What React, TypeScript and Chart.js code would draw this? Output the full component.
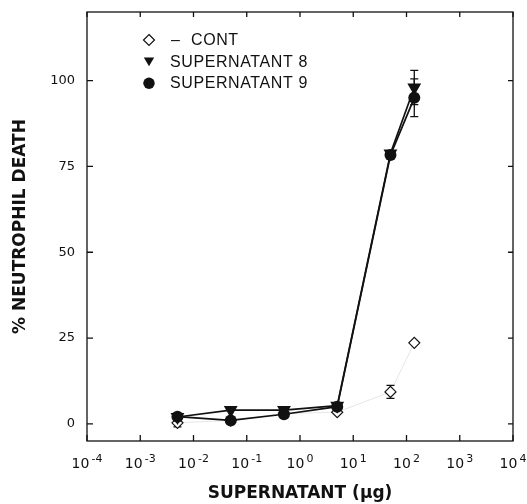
import React, { useEffect, useRef } from "react";
import { Chart, registerables } from "chart.js";

Chart.register(...registerables);

// ---- data ----
const doses = [0.005, 0.05, 0.5, 5, 50, 140];
const contValues = [0.3, 1, 3, 3.4, 9.3, 23.6];
const contErrors = [1.2, 0, 0, 0, 1.9, 0];
const sup8Values = [2, 4, 4, 5.3, 78.8, 98];
const sup8Errors = [0, 0, 0, 0, 0, 5];
const sup9Values = [2.1, 1, 2.8, 5, 78.3, 95];
const sup9Errors = [0, 0, 0, 0, 0, 5.5];
const xTickExponents = [-4, -3, -2, -1, 0, 1, 2, 3, 4];
const yTickValues = [0, 25, 50, 75, 100];
const seriesLabels = ["– CONT", "SUPERNATANT 8", "SUPERNATANT 9"];
const xTitle = "SUPERNATANT (µg)";
const yTitle = "% NEUTROPHIL DEATH";

const INK = "#111";

const errorsByDataset = [contErrors, sup8Errors, sup9Errors];

const errorBarPlugin = {
  id: "errorBars",
  beforeDatasetsDraw(chart: any) {
    const { ctx } = chart;
    const xs = chart.scales.x;
    const ys = chart.scales.y;
    ctx.save();
    ctx.strokeStyle = INK;
    ctx.lineWidth = 1.3;
    chart.data.datasets.forEach((ds: any, di: number) => {
      const errs = errorsByDataset[di];
      ds.data.forEach((p: any, i: number) => {
        const e = errs[i];
        if (!e) return;
        const px = xs.getPixelForValue(p.x);
        const top = ys.getPixelForValue(p.y + e);
        const bot = ys.getPixelForValue(p.y - e);
        ctx.beginPath();
        ctx.moveTo(px, top);
        ctx.lineTo(px, bot);
        ctx.moveTo(px - 4, top);
        ctx.lineTo(px + 4, top);
        ctx.moveTo(px - 4, bot);
        ctx.lineTo(px + 4, bot);
        ctx.stroke();
      });
    });
    ctx.restore();
  },
};

const framePlugin = {
  id: "frame",
  afterDraw(chart: any) {
    const { ctx, chartArea: a } = chart;
    const xs = chart.scales.x;
    const ys = chart.scales.y;
    ctx.save();
    ctx.strokeStyle = INK;
    ctx.lineWidth = 1.3;
    ctx.strokeRect(a.left, a.top, a.right - a.left, a.bottom - a.top);
    ctx.beginPath();
    xTickExponents.forEach((e) => {
      const px = xs.getPixelForValue(Math.pow(10, e));
      ctx.moveTo(px, a.bottom);
      ctx.lineTo(px, a.bottom - 6);
      ctx.moveTo(px, a.top);
      ctx.lineTo(px, a.top + 5);
    });
    yTickValues.forEach((v) => {
      const py = ys.getPixelForValue(v);
      ctx.moveTo(a.left, py);
      ctx.lineTo(a.left + 6, py);
      ctx.moveTo(a.right, py);
      ctx.lineTo(a.right - 5, py);
    });
    ctx.stroke();

    // x tick labels: "10" with a raised exponent
    ctx.fillStyle = INK;
    ctx.textBaseline = "alphabetic";
    ctx.textAlign = "left";
    const baseFont = "14px 'DejaVu Sans', sans-serif";
    const expFont = "11px 'DejaVu Sans', sans-serif";
    xTickExponents.forEach((e) => {
      const px = xs.getPixelForValue(Math.pow(10, e));
      const base = "10";
      const exp = String(e);
      ctx.font = baseFont;
      const wb = ctx.measureText(base).width;
      ctx.font = expFont;
      const we = ctx.measureText(exp).width;
      const gap = 2;
      const start = px - (wb + gap + we) / 2;
      const baseY = a.bottom + 27;
      ctx.font = baseFont;
      ctx.fillText(base, start, baseY);
      ctx.font = expFont;
      ctx.fillText(exp, start + wb + gap, baseY - 6);
    });
    ctx.restore();
  },
};

const legendPlugin = {
  id: "innerLegend",
  afterDraw(chart: any) {
    const { ctx } = chart;
    const mx = 149;
    const tx = 170;
    const rows = [40, 61.7, 83.3];
    ctx.save();
    ctx.font = "16px 'Liberation Sans', Arial, sans-serif";
    try { (ctx as any).letterSpacing = "0.6px"; } catch (e) { /* ignore */ }
    ctx.fillStyle = INK;
    ctx.strokeStyle = INK;
    ctx.textBaseline = "middle";
    ctx.textAlign = "left";
    seriesLabels.forEach((label, i) => {
      const y = rows[i];
      ctx.lineWidth = 1.2;
      ctx.beginPath();
      if (i === 0) {
        ctx.moveTo(mx, y - 5.5);
        ctx.lineTo(mx + 5.5, y);
        ctx.lineTo(mx, y + 5.5);
        ctx.lineTo(mx - 5.5, y);
        ctx.closePath();
        ctx.fillStyle = "#fff";
        ctx.fill();
        ctx.stroke();
      } else if (i === 1) {
        ctx.moveTo(mx - 5.2, y - 4.3);
        ctx.lineTo(mx + 5.2, y - 4.3);
        ctx.lineTo(mx, y + 4.5);
        ctx.closePath();
        ctx.fillStyle = INK;
        ctx.fill();
      } else {
        ctx.arc(mx, y, 5.7, 0, Math.PI * 2);
        ctx.fillStyle = INK;
        ctx.fill();
      }
      ctx.fillStyle = INK;
      if (label.startsWith("– ")) {
        ctx.fillText("–", tx + 1, y + 0.5);
        ctx.fillText(label.slice(2), tx + 21, y + 0.5);
      } else {
        ctx.fillText(label, tx, y + 0.5);
      }
    });
    ctx.restore();
  },
};

export default function App() {
  const canvasRef = useRef<HTMLCanvasElement | null>(null);

  useEffect(() => {
    if (!canvasRef.current) return;
    const toPts = (vals: number[]) => doses.map((d, i) => ({ x: d, y: vals[i] }));
    const chart = new Chart(canvasRef.current, {
      type: "line",
      data: {
        datasets: [
          {
            label: seriesLabels[0],
            data: toPts(contValues),
            borderColor: "rgba(0,0,0,0.10)",
            borderWidth: 1,
            pointStyle: "rectRot",
            pointRadius: 5.5,
            pointBorderWidth: 1.2,
            pointBorderColor: INK,
            pointBackgroundColor: "#fff",
            order: 3,
          },
          {
            label: seriesLabels[1],
            data: toPts(sup8Values),
            borderColor: INK,
            borderWidth: 1.7,
            pointStyle: "triangle",
            rotation: 180,
            pointRadius: 8,
            pointBorderWidth: 0,
            pointBorderColor: INK,
            pointBackgroundColor: INK,
            order: 2,
          },
          {
            label: seriesLabels[2],
            data: toPts(sup9Values),
            borderColor: INK,
            borderWidth: 1.7,
            pointStyle: "circle",
            pointRadius: 6,
            pointBorderWidth: 0,
            pointBorderColor: INK,
            pointBackgroundColor: INK,
            order: 1,
          },
        ],
      },
      options: {
        responsive: false,
        animation: false,
        devicePixelRatio: 1,
        layout: { padding: { left: 0, right: 14, top: 12, bottom: 0 } },
        plugins: {
          legend: { display: false },
          tooltip: { enabled: false },
          title: { display: false },
        },
        scales: {
          x: {
            type: "logarithmic",
            min: 1e-4,
            max: 1e4,
            afterBuildTicks: (scale: any) => {
              scale.ticks = xTickExponents.map((e) => ({ value: Math.pow(10, e) }));
            },
            afterFit: (scale: any) => {
              scale.height = 63;
              scale.paddingLeft = 0;
              scale.paddingRight = 0;
            },
            grid: { display: false, drawTicks: false },
            border: { display: false },
            ticks: { display: false, autoSkip: false, maxRotation: 0, minRotation: 0 },
            title: {
              display: true,
              text: xTitle,
              color: INK,
              padding: { top: 0, bottom: 0 },
              font: { family: "'DejaVu Sans', sans-serif", size: 17, weight: "bold" },
            },
          },
          y: {
            type: "linear",
            min: -5,
            max: 120,
            afterBuildTicks: (scale: any) => {
              scale.ticks = yTickValues.map((v) => ({ value: v }));
            },
            afterFit: (scale: any) => {
              scale.width = 87;
              scale.paddingTop = 0;
              scale.paddingBottom = 0;
            },
            grid: { display: false, drawTicks: false },
            border: { display: false },
            ticks: {
              padding: 12,
              color: INK,
              font: { family: "'DejaVu Sans', sans-serif", size: 13 },
              callback: (v: any) => String(v),
            },
            title: {
              display: true,
              text: yTitle,
              color: INK,
              padding: { top: 10, bottom: 0 },
              font: { family: "'DejaVu Sans', sans-serif", size: 17, weight: "bold" },
            },
          },
        },
      },
      plugins: [errorBarPlugin, framePlugin, legendPlugin],
    } as any);
    return () => chart.destroy();
  }, []);

  return (
    <div style={{ position: "absolute", left: 0, top: 0, width: 527, height: 504, background: "#fff" }}>
      <canvas ref={canvasRef} width={527} height={504} style={{ display: "block" }} />
    </div>
  );
}
